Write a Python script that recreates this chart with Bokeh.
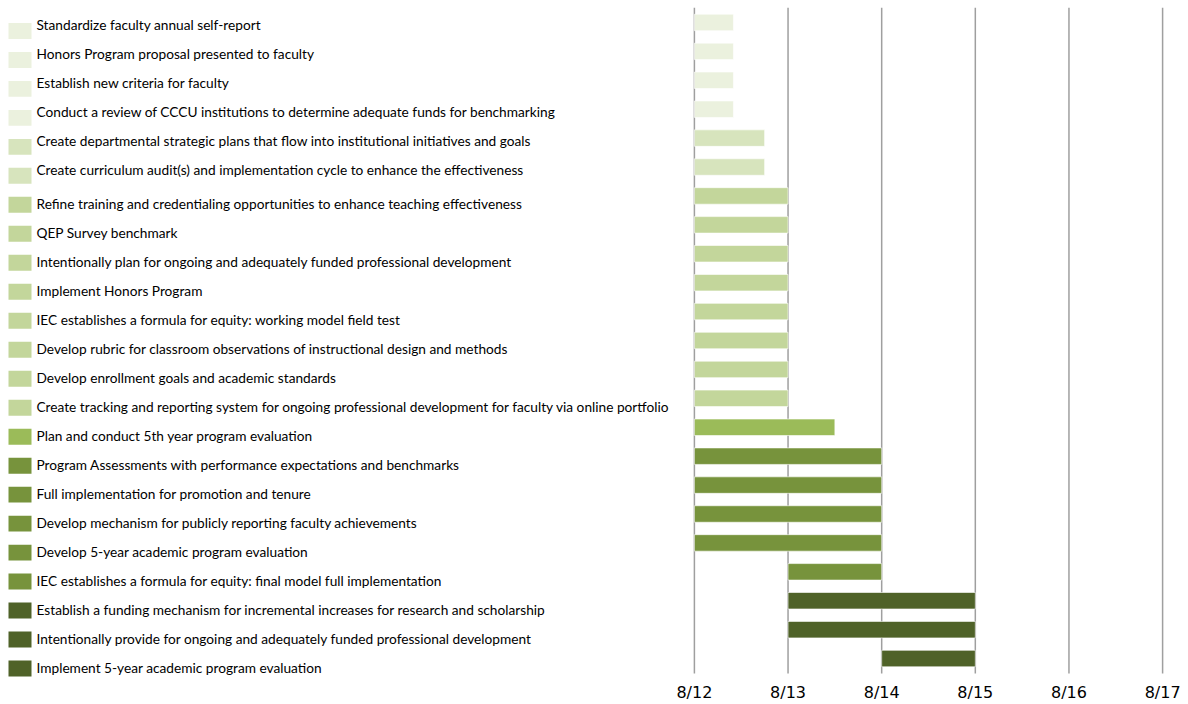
from bokeh.plotting import figure
from bokeh.layouts import row
from bokeh.models import Range1d, FixedTicker, ColumnDataSource
from bokeh.core.properties import value
from bokeh.embed import file_html
from bokeh.resources import INLINE

# ---------------- data ----------------
tasks = [
    "Standardize faculty annual self-report",
    "Honors Program proposal presented to faculty",
    "Establish new criteria for faculty",
    "Conduct a review of CCCU institutions to determine adequate funds for benchmarking",
    "Create departmental strategic plans that flow into institutional initiatives and goals",
    "Create curriculum audit(s) and implementation cycle to enhance the effectiveness",
    "Refine training and credentialing opportunities to enhance teaching effectiveness",
    "QEP Survey benchmark",
    "Intentionally plan for ongoing and adequately funded professional development",
    "Implement Honors Program",
    "IEC establishes a formula for equity: working model field test",
    "Develop rubric for classroom observations of instructional design and methods",
    "Develop enrollment goals and academic standards",
    "Create tracking and reporting system for ongoing professional development for faculty via online portfolio",
    "Plan and conduct 5th year program evaluation",
    "Program Assessments with performance expectations and benchmarks",
    "Full implementation for promotion and tenure",
    "Develop mechanism for publicly reporting faculty achievements",
    "Develop 5-year academic program evaluation",
    "IEC establishes a formula for equity: final model full implementation",
    "Establish a funding mechanism for incremental increases for research and scholarship",
    "Intentionally provide for ongoing and adequately funded professional development",
    "Implement 5-year academic program evaluation",
]
starts = ["2012-08"] * 19 + ["2013-08", "2013-08", "2013-08", "2014-08"]
ends = (["2013-01"] * 4 + ["2013-05"] * 2 + ["2013-08"] * 8 + ["2014-02"]
        + ["2014-08"] * 5 + ["2015-08"] * 3)
phase = [0, 0, 0, 0, 1, 1, 2, 2, 2, 2, 2, 2, 2, 2, 3, 4, 4, 4, 4, 4, 5, 5, 5]
tick_dates = ["2012-08", "2013-08", "2014-08", "2015-08", "2016-08", "2017-08"]
tick_labels = ["8/12", "8/13", "8/14", "8/15", "8/16", "8/17"]

# ---------------- styles ----------------
palette = ["#EBF1DE", "#D7E4BD", "#C3D69B", "#9BBB59", "#77933C", "#4F6228"]
LABEL_FONT = "Lato"


def month_index(s):
    y, m = s.split("-")
    return int(y) * 12 + int(m) - 1


n = len(tasks)
rows = list(range(n))
colors = [palette[k] for k in phase]
left_vals = [month_index(s) for s in starts]
right_vals = [month_index(s) for s in ends]
tick_vals = [month_index(s) for s in tick_dates]

W, H = 1188, 704
LEFT_W = 674
FRAME_TOP, FRAME_BOTTOM = 7, 684
GRID_BOTTOM = 675
ROW_PX = 29.0
FIRST_ROW_PX = 22.0
PAD = 0.5  # months of padding so the edge grid lines are visible

# ---------------- right: gantt bars ----------------
top_val = -(FIRST_ROW_PX - FRAME_TOP) / ROW_PX
bottom_val = top_val + (FRAME_BOTTOM - FRAME_TOP) / ROW_PX
grid_end = top_val + (GRID_BOTTOM - FRAME_TOP) / ROW_PX

bar_src = ColumnDataSource(dict(y=rows, left=left_vals, right=right_vals, color=colors))

gantt = figure(width=W - LEFT_W, height=H, output_backend="svg", toolbar_location=None,
               x_range=Range1d(tick_vals[0] - PAD, tick_vals[-1] + PAD),
               y_range=Range1d(bottom_val, top_val),
               y_axis_location=None,
               min_border_left=16, min_border_right=22,
               min_border_top=FRAME_TOP, min_border_bottom=H - FRAME_BOTTOM)
gantt.outline_line_color = None
gantt.background_fill_color = "white"
gantt.border_fill_color = "white"
gantt.grid.visible = False

# vertical grid lines at each tick, ending above the tick labels
gantt.segment(x0=tick_vals, x1=tick_vals, y0=[top_val] * len(tick_vals),
              y1=[grid_end] * len(tick_vals), line_color="#9f9f9f", line_width=1.5)

gantt.hbar(y="y", left="left", right="right", height=0.57, fill_color="color",
           line_color="white", line_width=0.6, source=bar_src)

ax = gantt.xaxis[0]
ax.ticker = FixedTicker(ticks=tick_vals)
ax.major_label_overrides = {v: l for v, l in zip(tick_vals, tick_labels)}
ax.axis_line_color = None
ax.major_tick_line_color = None
ax.minor_tick_line_color = None
ax.major_tick_out = 0
ax.major_tick_in = 0
ax.major_label_standoff = 0
ax.major_label_text_font = "DejaVu Sans"
ax.major_label_text_font_size = "16px"
ax.major_label_text_color = "#000000"

# ---------------- left: task legend ----------------
legend_fig = figure(width=LEFT_W, height=H, output_backend="svg", toolbar_location=None,
                    x_range=Range1d(0, LEFT_W), y_range=Range1d(FRAME_BOTTOM, FRAME_TOP),
                    x_axis_location=None, y_axis_location=None,
                    min_border_left=0, min_border_right=0,
                    min_border_top=FRAME_TOP, min_border_bottom=H - FRAME_BOTTOM)
legend_fig.outline_line_color = None
legend_fig.grid.visible = False

LEG_FIRST, LEG_LAST = 30.5, 670.0
step = (LEG_LAST - LEG_FIRST) / (n - 1)
centers = [LEG_FIRST + step * i for i in rows]
text_shift = [-6.5 if i < 6 else -1.5 for i in rows]
leg_src = ColumnDataSource(dict(
    top=[c - 8 for c in centers], bottom=[c + 8 for c in centers],
    ty=[c + s for c, s in zip(centers, text_shift)], text=tasks, color=colors))
legend_fig.quad(left=8, right=31, top="top", bottom="bottom", fill_color="color",
                line_color=None, source=leg_src)
legend_fig.text(x=36, y="ty", text="text", source=leg_src, text_baseline="middle",
                text_align="left", text_font=value(LABEL_FONT), text_font_size="13.7px",
                text_color="#000000")

layout = row(legend_fig, gantt, spacing=0)
open("out.html", "w").write(file_html(layout, INLINE))
